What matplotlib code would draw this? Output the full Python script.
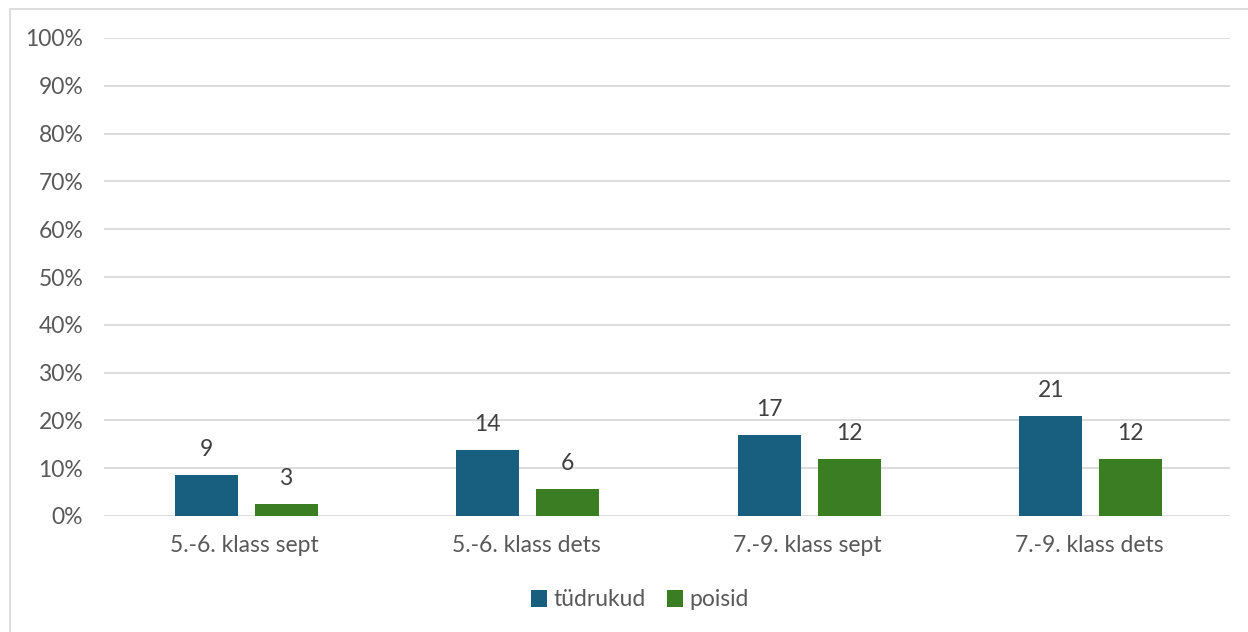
import numpy as np
import matplotlib.pyplot as plt
from matplotlib.patches import Rectangle

categories = ['5.-6. klass sept', '5.-6. klass dets', '7.-9. klass sept', '7.-9. klass dets']
tudrukud = [8.6, 13.8, 16.9, 20.9]
poisid = [2.5, 5.6, 11.9, 11.9]
tudrukud_labels = ['9', '14', '17', '21']
poisid_labels = ['3', '6', '12', '12']

plt.rcParams['font.family'] = ['Lato', 'DejaVu Sans']
fs = 16.5

fig = plt.figure(figsize=(12.48, 6.32), dpi=100)
fig.patches.append(Rectangle((10 / 1248, -0.1), 1.2, 1 - 9 / 632 + 0.1, transform=fig.transFigure,
                             fill=False, edgecolor='#d9d9d9', linewidth=1.2))
ax = fig.add_axes([104 / 1248, 116 / 632, 1126 / 1248, 478 / 632])

x = np.arange(len(categories))
w = 0.224
off = 0.142
b1 = ax.bar(x - off + 0.005, tudrukud, w, color='#175e7f', label='tüdrukud', zorder=3)
b2 = ax.bar(x + off + 0.005, poisid, w, color='#3b7d23', label='poisid', zorder=3)

for bars, labs in [(b1, tudrukud_labels), (b2, poisid_labels)]:
    for bar, lab in zip(bars, labs):
        ax.text(bar.get_x() + bar.get_width() / 2, bar.get_height() + 5.4, lab,
                ha='center', va='center', fontsize=fs, color='#404040')

ax.set_xlim(-0.5, 3.5)
ax.set_ylim(0, 100)
ax.set_yticks(np.arange(0, 101, 10))
ax.set_yticklabels([f'{v}%' for v in range(0, 101, 10)])
ax.set_xticks(x)
ax.set_xticklabels(categories)
ax.tick_params(axis='both', length=0, labelsize=fs, labelcolor='#595959')
ax.tick_params(axis='y', pad=15)
ax.tick_params(axis='x', pad=14)
ax.grid(axis='y', color='#d9d9d9', linewidth=1.3, zorder=0)
for s in ax.spines.values():
    s.set_visible(False)

fig.legend(loc='center', bbox_to_anchor=(640 / 1248, 1 - 600 / 632), ncol=2, frameon=False,
           fontsize=fs, labelcolor='#595959', handlelength=0.7, handleheight=0.7,
           handletextpad=0.3, columnspacing=0.9)

plt.savefig('out.png', dpi=100)
